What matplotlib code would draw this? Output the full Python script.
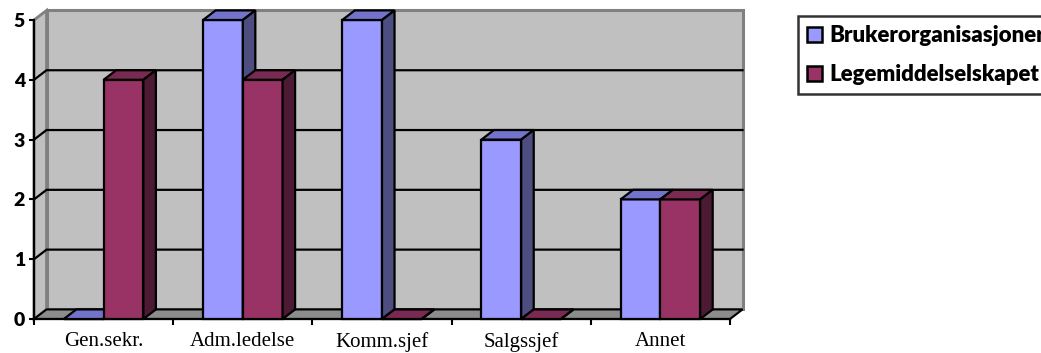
import matplotlib
matplotlib.use("Agg")
import matplotlib.pyplot as plt
from matplotlib.patches import Polygon, Patch

# ---- data ----
categories = ["Gen.sekr.", "Adm.ledelse", "Komm.sjef", "Salgssjef", "Annet"]
series_names = ["Brukerorganisasjoner", "Legemiddelselskapet"]
brukerorganisasjoner = [0, 5, 5, 3, 2]
legemiddelselskapet = [4, 4, 0, 0, 2]
y_ticks = [0, 1, 2, 3, 4, 5]

# ---- style ----
W, H, DPI = 1041, 353, 100
DX, DY = 0.09, 0.16          # depth offset of the 3D box (data units)
BAR_W = 1 / 3.5              # gap width 150 %
series_colors = [
    dict(front="#9999FF", top="#7373CC", side="#4D4D80"),
    dict(front="#993366", top="#7A2952", side="#4D1A33"),
]
WALL = "#C0C0C0"
WALL_EDGE = "#808080"
FLOOR = "#8C8C8C"
BOLD_FONT = dict(family="Lato", weight="heavy")

fig = plt.figure(figsize=(W / DPI, H / DPI), dpi=DPI)
ax = fig.add_axes([34 / W, 1 - 319 / H, (730 - 34) / W, (319 - 20) / H])
n = len(categories)
ymax = y_ticks[-1]
ax.set_xlim(0, n)
ax.set_ylim(0, ymax)
ax.patch.set_visible(False)


def poly(pts, fc, ec, lw, z):
    ax.add_patch(Polygon(pts, closed=True, facecolor=fc, edgecolor=ec,
                         linewidth=lw, joinstyle="miter", clip_on=False,
                         zorder=z))


# back wall, side wall and floor
poly([(DX, DY), (n + DX, DY), (n + DX, ymax + DY), (DX, ymax + DY)],
     WALL, WALL_EDGE, 2.2, 0.5)
poly([(0, 0), (DX, DY), (DX, ymax + DY), (0, ymax)],
     WALL, WALL_EDGE, 2.0, 0.6)
poly([(0, 0), (n, 0), (n + DX, DY), (DX, DY)], FLOOR, "black", 1.5, 0.7)

# gridlines across side wall and back wall
for k in y_ticks[1:-1]:
    ax.plot([0, DX, n + DX], [k, k + DY, k + DY], color="black", lw=1.6,
            solid_joinstyle="miter", clip_on=False, zorder=1)

# 3D columns
series = [brukerorganisasjoner, legemiddelselskapet]
z = 3
for i in range(n):
    for s, vals in enumerate(series):
        h = vals[i]
        x0 = i + 0.5 - BAR_W + s * BAR_W
        x1 = x0 + BAR_W
        c = series_colors[s]
        poly([(x0, 0), (x1, 0), (x1, h), (x0, h)], c["front"], "black", 1.6, z)
        poly([(x0, h), (x1, h), (x1 + DX, h + DY), (x0 + DX, h + DY)],
             c["top"], "black", 1.6, z)
        poly([(x1, 0), (x1 + DX, DY), (x1 + DX, h + DY), (x1, h)],
             c["side"], "black", 1.6, z)
        z += 1

# axes lines and ticks
for side in ("top", "right"):
    ax.spines[side].set_visible(False)
for side in ("left", "bottom"):
    ax.spines[side].set_linewidth(1.6)
    ax.spines[side].set_zorder(2)

ax.set_yticks(y_ticks)
ax.set_yticklabels([str(t) for t in y_ticks], fontsize=14, **BOLD_FONT)
ax.tick_params(axis="y", direction="out", length=3.5, width=1.5, pad=3)

ax.set_xticks(range(n + 1))
ax.set_xticklabels([])
ax.set_xticks([i + 0.5 for i in range(n)], minor=True)
ax.set_xticklabels(categories, minor=True, fontfamily="Liberation Serif",
                   fontsize=15)
ax.tick_params(axis="x", which="major", direction="out", length=4.5,
               width=1.5)
ax.tick_params(axis="x", which="minor", length=0, pad=9.5)

# legend
handles = [Patch(facecolor=c["front"], edgecolor="black", linewidth=1.8)
           for c in series_colors]
leg = fig.legend(handles, series_names, loc="upper left",
                 bbox_to_anchor=(798 / W, 1 - 16 / H),
                 prop=dict(size=16, **BOLD_FONT),
                 frameon=True, fancybox=False, edgecolor="black",
                 handlelength=0.68, handleheight=0.68, handletextpad=0.3,
                 labelspacing=0.8, borderpad=0.42, borderaxespad=0)
leg.get_frame().set_linewidth(1.8)

fig.savefig("out.png", dpi=DPI)
